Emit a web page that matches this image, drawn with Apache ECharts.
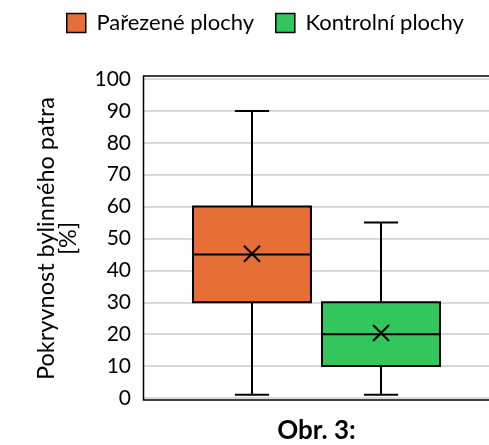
<!DOCTYPE html>
<html>
<head>
<meta charset="utf-8">
<script src="https://cdn.jsdelivr.net/npm/echarts@6/dist/echarts.min.js"></script>
<style>
html,body{margin:0;padding:0;background:#fff;}
#chart{width:489px;height:445px;}
</style>
</head>
<body>
<div id="chart"></div>
<script>
// ---- data ----
const categories = ['Obr. 3:'];
const seriesNames = ['Pařezené plochy', 'Kontrolní plochy'];
const minValues = [1, 1];
const q1Values = [30, 10];
const medianValues = [45, 20];
const q3Values = [60, 30];
const maxValues = [90, 55];
const meanValues = [45.2, 20.4];
const yMin = 0, yMax = 100, yInterval = 10;
const colors = ['#E66E37', '#31C75C'];

const FONT = 'Lato, "Open Sans", sans-serif';

function makeRender(idx) {
  return function (params, api) {
    const band = api.size([1, 0])[0];
    const dir = idx === 0 ? -1 : 1;
    const cx = api.coord([api.value(0), 0])[0] + dir * band * 0.187;
    const yy = v => api.coord([api.value(0), v])[1];
    const bw = band * 0.342;
    const cap = band * 0.099;
    const yMinP = yy(api.value(1)), yQ1 = yy(api.value(2)), yMed = yy(api.value(3)),
          yQ3 = yy(api.value(4)), yMaxP = yy(api.value(5)), yMean = yy(api.value(6));
    const ls = { stroke: '#000', lineWidth: 2 };
    const m = 8;
    return {
      type: 'group',
      children: [
        { type: 'line', shape: { x1: cx, y1: yMaxP, x2: cx, y2: yQ3 }, style: ls },
        { type: 'line', shape: { x1: cx, y1: yQ1, x2: cx, y2: yMinP }, style: ls },
        { type: 'line', shape: { x1: cx - cap / 2, y1: yMaxP, x2: cx + cap / 2, y2: yMaxP }, style: ls },
        { type: 'line', shape: { x1: cx - cap / 2, y1: yMinP, x2: cx + cap / 2, y2: yMinP }, style: ls },
        { type: 'rect', shape: { x: cx - bw / 2, y: yQ3, width: bw, height: yQ1 - yQ3 },
          style: { fill: colors[idx], stroke: '#000', lineWidth: 2 } },
        { type: 'line', shape: { x1: cx - bw / 2, y1: yMed, x2: cx + bw / 2, y2: yMed }, style: ls },
        { type: 'line', shape: { x1: cx - m, y1: yMean - m, x2: cx + m, y2: yMean + m }, style: ls },
        { type: 'line', shape: { x1: cx - m, y1: yMean + m, x2: cx + m, y2: yMean - m }, style: ls }
      ]
    };
  };
}

const series = seriesNames.map((name, i) => ({
  name: name,
  type: 'custom',
  renderItem: makeRender(i),
  itemStyle: { color: colors[i], borderColor: '#000', borderWidth: 1.5 },
  encode: { x: 0, y: [1, 2, 3, 4, 5, 6] },
  data: categories.map((c, k) => [k, minValues[i], q1Values[i], medianValues[i], q3Values[i], maxValues[i], meanValues[i]])
}));

const chart = echarts.init(document.getElementById('chart'), null, { renderer: 'canvas' });
chart.setOption({
  animation: false,
  backgroundColor: '#fff',
  textStyle: { fontFamily: FONT },
  legend: {
    left: 66, top: 12, padding: 0,
    itemWidth: 19, itemHeight: 19, itemGap: 21,
    formatter: ' {name}',
    textStyle: { fontFamily: FONT, fontSize: 22, color: '#000' },
    data: seriesNames.map((n, i) => ({ name: n, icon: 'rect', itemStyle: { color: colors[i], borderColor: '#000', borderWidth: 1.5 } }))
  },
  grid: { left: 144, right: 0, top: 79, bottom: 47 },
  graphic: [{
    type: 'rect', shape: { x: 143.5, y: 76, width: 360, height: 324 },
    style: { fill: 'none', stroke: '#000', lineWidth: 1.5 }, z: 10, silent: true
  }],
  xAxis: {
    type: 'category', data: categories,
    axisLine: { show: false }, axisTick: { show: false },
    axisLabel: { fontFamily: FONT, fontSize: 26, fontWeight: 'bold', color: '#000', margin: 20 },
    splitLine: { show: false }
  },
  yAxis: {
    type: 'value', min: yMin, max: yMax, interval: yInterval,
    name: 'Pokryvnost bylinného patra\n[%]',
    nameLocation: 'middle', nameGap: 65, nameRotate: 90,
    nameTextStyle: { fontFamily: FONT, fontSize: 23.5, color: '#000', lineHeight: 22 },
    axisLine: { show: false }, axisTick: { show: false },
    axisLabel: { fontFamily: FONT, fontSize: 21, color: '#000', margin: 13 },
    splitLine: { lineStyle: { color: '#d9d9d9', width: 2 } }
  },
  series: series
});
</script>
</body>
</html>
